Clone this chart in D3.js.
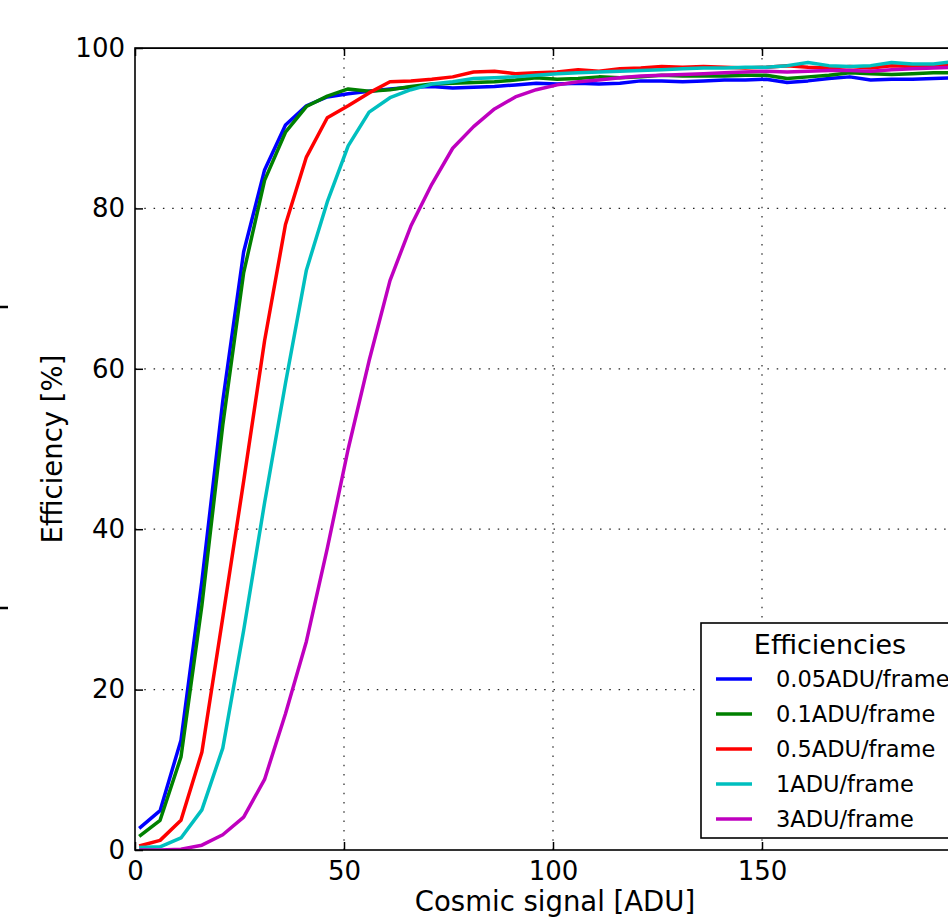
<!DOCTYPE html>
<html>
<head>
<meta charset="utf-8">
<script src="https://cdn.jsdelivr.net/npm/d3@7"></script>
<style>
  body { margin: 0; background: white; }
  svg { display: block; font-family: "DejaVu Sans", sans-serif; }
</style>
</head>
<body>
<script>
// x positions of the samples (ADU)
const signal = d3.range(40).map(i => 1 + 5 * i);

const seriesNames = ["0.05ADU/frame", "0.1ADU/frame", "0.5ADU/frame", "1ADU/frame", "3ADU/frame"];
const seriesColors = ["#0000ff", "#008000", "#ff0000", "#00bfbf", "#bf00bf"];

const eff005 = [2.7, 4.9, 13.7, 33.5, 56, 74.6, 84.8, 90.4, 92.8, 93.9, 94.3, 94.6, 94.9, 95.1, 95.2, 95.0, 95.1, 95.2, 95.4, 95.6,
  95.5, 95.6, 95.5, 95.6, 95.9, 95.9, 95.8, 95.9, 96.0, 96.0, 96.1, 95.7, 95.9, 96.2, 96.4, 96.0, 96.1, 96.1, 96.2, 96.3];
const eff01 = [1.7, 3.7, 11.6, 30.5, 53, 72, 83.5, 89.5, 92.7, 94, 94.9, 94.6, 94.8, 95.2, 95.5, 95.6, 95.7, 95.8, 96.0, 96.3,
  96.1, 96.2, 96.4, 96.3, 96.4, 96.6, 96.5, 96.5, 96.5, 96.6, 96.6, 96.2, 96.4, 96.6, 96.9, 96.8, 96.7, 96.8, 96.9, 96.9];
const eff05 = [0.5, 1.2, 3.7, 12.2, 29, 46, 63.5, 78, 86.4, 91.3, 92.8, 94.4, 95.8, 95.9, 96.1, 96.4, 97.0, 97.1, 96.8, 96.9,
  97.0, 97.3, 97.1, 97.4, 97.5, 97.7, 97.6, 97.7, 97.6, 97.5, 97.6, 97.8, 97.6, 97.5, 97.7, 97.5, 97.8, 97.7, 97.8, 97.9];
const eff1 = [0.3, 0.4, 1.5, 5, 12.7, 27.4, 43.3, 58.2, 72.3, 80.8, 87.8, 92, 93.8, 94.8, 95.5, 95.8, 96.2, 96.3, 96.4, 96.6,
  96.8, 96.9, 97.0, 97.1, 97.2, 97.3, 97.4, 97.5, 97.5, 97.6, 97.6, 97.8, 98.2, 97.8, 97.7, 97.8, 98.2, 98.0, 98.0, 98.3];
const eff3 = [0, 0, 0.1, 0.6, 1.9, 4.1, 8.8, 17, 26, 37.6, 50, 61, 71, 77.8, 83, 87.5, 90.2, 92.4, 93.9, 94.8,
  95.4, 95.8, 96.0, 96.3, 96.5, 96.6, 96.7, 96.8, 96.9, 97.0, 97.1, 97.0, 97.1, 97.2, 97.2, 97.1, 97.3, 97.4, 97.5, 97.6];

const series = [eff005, eff01, eff05, eff1, eff3];

const xTicks = [0, 50, 100, 150, 200];
const yTicks = [0, 20, 40, 60, 80, 100];

const width = 948, height = 919;
const plotLeft = 135, plotTop = 48, plotRight = 971, plotBottom = 850;

const svg = d3.select("body").append("svg")
    .attr("width", width)
    .attr("height", height);

const x = d3.scaleLinear().domain([0, 200]).range([plotLeft, plotRight]);
const y = d3.scaleLinear().domain([0, 100]).range([plotBottom, plotTop]);

svg.append("clipPath").attr("id", "plot")
  .append("rect")
    .attr("x", plotLeft).attr("y", plotTop)
    .attr("width", plotRight - plotLeft).attr("height", plotBottom - plotTop);

// grid
const grid = svg.append("g").attr("stroke", "#222").attr("stroke-width", 1.2)
    .attr("stroke-dasharray", "1.5,7.8");
grid.selectAll(".vg").data(xTicks.slice(1, -1)).enter().append("line")
    .attr("x1", d => x(d)).attr("x2", d => x(d))
    .attr("y1", plotBottom).attr("y2", plotTop);
grid.selectAll(".hg").data(yTicks.slice(1, -1)).enter().append("line")
    .attr("x1", plotLeft).attr("x2", plotRight)
    .attr("y1", d => y(d)).attr("y2", d => y(d));

// curves
const line = d3.line()
    .x((d, i) => x(signal[i]))
    .y(d => y(d));

svg.append("g").attr("clip-path", "url(#plot)")
  .selectAll("path").data(series).enter().append("path")
    .attr("d", d => line(d))
    .attr("fill", "none")
    .attr("stroke", (d, i) => seriesColors[i])
    .attr("stroke-width", 3.5)
    .attr("stroke-linejoin", "round");

// axes with inward ticks (both sides)
const xAxis = d3.axisBottom(x).tickValues(xTicks).tickSize(-8).tickPadding(12).tickFormat(d3.format("d"));
const yAxis = d3.axisLeft(y).tickValues(yTicks).tickSize(-8).tickPadding(10);

const gx = svg.append("g").attr("transform", `translate(0,${plotBottom})`).call(xAxis);
const gy = svg.append("g").attr("transform", `translate(${plotLeft},0)`).call(yAxis);
svg.append("g").attr("transform", `translate(0,${plotTop})`)
  .call(d3.axisTop(x).tickValues(xTicks).tickSize(-8).tickFormat(""));

[gx, gy].forEach(g => {
  g.selectAll("text").attr("font-size", 26).attr("fill", "#000").attr("font-family", "DejaVu Sans");
  g.select(".domain").remove();
});
svg.selectAll(".tick line").attr("stroke", "#000").attr("stroke-width", 1.5);

// frame
svg.append("rect")
    .attr("x", plotLeft).attr("y", plotTop)
    .attr("width", plotRight - plotLeft).attr("height", plotBottom - plotTop)
    .attr("fill", "none").attr("stroke", "#000").attr("stroke-width", 1.6);

// axis labels
svg.append("text")
    .attr("x", 555).attr("y", 911)
    .attr("text-anchor", "middle").attr("font-size", 27.5)
    .text("Cosmic signal [ADU]");
svg.append("text")
    .attr("transform", `translate(62,${(plotTop + plotBottom) / 2}) rotate(-90)`)
    .attr("text-anchor", "middle").attr("font-size", 27.5)
    .text("Efficiency [%]");

// legend
const leg = svg.append("g").attr("transform", "translate(701,623)");
leg.append("rect")
    .attr("width", 300).attr("height", 215)
    .attr("fill", "white").attr("stroke", "#000").attr("stroke-width", 1.6);
leg.append("text")
    .attr("x", 129).attr("y", 31)
    .attr("text-anchor", "middle").attr("font-size", 27)
    .text("Efficiencies");
const item = leg.selectAll(".item").data(seriesNames).enter().append("g")
    .attr("transform", (d, i) => `translate(0,${56 + i * 35})`);
item.append("line")
    .attr("x1", 15).attr("x2", 51)
    .attr("stroke", (d, i) => seriesColors[i]).attr("stroke-width", 3.5);
item.append("text")
    .attr("x", 75).attr("y", 8)
    .attr("font-size", 22.5)
    .text(d => d);

// stray tick marks from the neighbouring panel at the left edge
svg.selectAll(".stray").data([307, 608]).enter().append("line")
    .attr("x1", 0).attr("x2", 8)
    .attr("y1", d => d).attr("y2", d => d)
    .attr("stroke", "#000").attr("stroke-width", 2.5);
</script>
</body>
</html>
